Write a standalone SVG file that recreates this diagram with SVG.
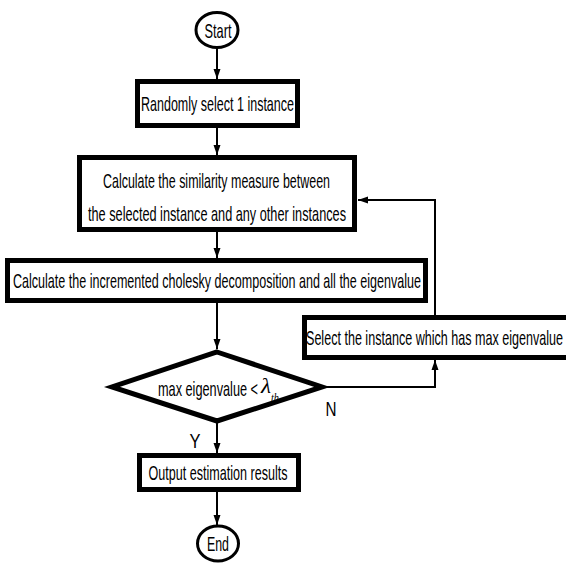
<svg xmlns="http://www.w3.org/2000/svg" width="566" height="564" viewBox="0 0 566 564">
<defs>
<style>
.box{fill:#fff;stroke:#000;stroke-width:5}
.term{fill:#fff;stroke:#000;stroke-width:3}
.t{font-family:"Liberation Sans",Arial,sans-serif;font-size:21px;fill:#000;text-anchor:middle}
.tl{font-family:"Liberation Sans",Arial,sans-serif;font-size:21px;fill:#000}
.ln{fill:none;stroke:#000;stroke-width:2}
.gr{font-family:"Liberation Serif","Times New Roman",serif;font-style:italic;fill:#000}
</style>
<marker id="ah" viewBox="0 0 10 10" refX="10" refY="5" markerWidth="10" markerHeight="10" markerUnits="userSpaceOnUse" orient="auto">
<path d="M0,1.5 L10,5 L0,8.5 Z" fill="#000"/>
</marker>
</defs>
<rect width="566" height="564" fill="#fff"/>
<g id="connectors">
<line class="ln" x1="217" y1="47" x2="217" y2="79" marker-end="url(#ah)"/>
<line class="ln" x1="217" y1="128" x2="217" y2="155" marker-end="url(#ah)"/>
<line class="ln" x1="217" y1="232" x2="217" y2="258" marker-end="url(#ah)"/>
<line class="ln" x1="217" y1="303" x2="217" y2="349" marker-end="url(#ah)"/>
<line class="ln" x1="217" y1="423" x2="217" y2="453" marker-end="url(#ah)"/>
<line class="ln" x1="217" y1="492" x2="217" y2="525" marker-end="url(#ah)"/>
<polyline class="ln" points="326,387 435,387 435,360" marker-end="url(#ah)"/>
<polyline class="ln" points="435,315 435,200 358,200" marker-end="url(#ah)"/>
<text class="t" x="195" y="448" textLength="11" lengthAdjust="spacingAndGlyphs">Y</text>
<text class="t" x="331" y="416" textLength="11" lengthAdjust="spacingAndGlyphs">N</text>
</g>
<g id="start">
<ellipse class="term" cx="217" cy="30" rx="21" ry="17.5"/>
<text class="t" x="218" y="37.5" textLength="27" lengthAdjust="spacingAndGlyphs">Start</text>
</g>
<g id="select1">
<rect class="box" x="137.5" y="81.5" width="160" height="44"/>
<text class="t" x="217.5" y="111" textLength="153" lengthAdjust="spacingAndGlyphs">Randomly select 1 instance</text>
</g>
<g id="similarity">
<rect class="box" x="79.5" y="157.5" width="275" height="72"/>
<text class="t" x="216.5" y="188" textLength="227" lengthAdjust="spacingAndGlyphs">Calculate the similarity measure between</text>
<text class="t" x="217" y="221" textLength="258" lengthAdjust="spacingAndGlyphs">the selected instance and any other instances</text>
</g>
<g id="cholesky">
<rect class="box" x="7.5" y="260.5" width="418" height="40"/>
<text class="t" x="217" y="288" textLength="408" lengthAdjust="spacingAndGlyphs">Calculate the incremented cholesky decomposition and all the eigenvalue</text>
</g>
<g id="selectmax">
<rect class="box" x="304.5" y="317.5" width="272" height="40"/>
<text class="tl" x="306" y="345" textLength="257" lengthAdjust="spacingAndGlyphs">Select the instance which has max eigenvalue</text>
</g>
<g id="decision">
<polygon class="box" points="217,352 322,387 217,421 112,387"/>
<text class="tl" x="158" y="396" textLength="100" lengthAdjust="spacingAndGlyphs">max eigenvalue &lt;</text>
<text class="gr" x="261" y="393" font-size="22" textLength="10" lengthAdjust="spacingAndGlyphs">λ</text>
<text class="gr" x="271" y="402" font-size="13" textLength="8" lengthAdjust="spacingAndGlyphs">th</text>
</g>
<g id="output">
<rect class="box" x="139.5" y="455.5" width="159" height="34"/>
<text class="t" x="218" y="480" textLength="139" lengthAdjust="spacingAndGlyphs">Output estimation results</text>
</g>
<g id="end">
<ellipse class="term" cx="218" cy="543.5" rx="20.5" ry="17.5"/>
<text class="t" x="218" y="551" textLength="22" lengthAdjust="spacingAndGlyphs">End</text>
</g>
</svg>
